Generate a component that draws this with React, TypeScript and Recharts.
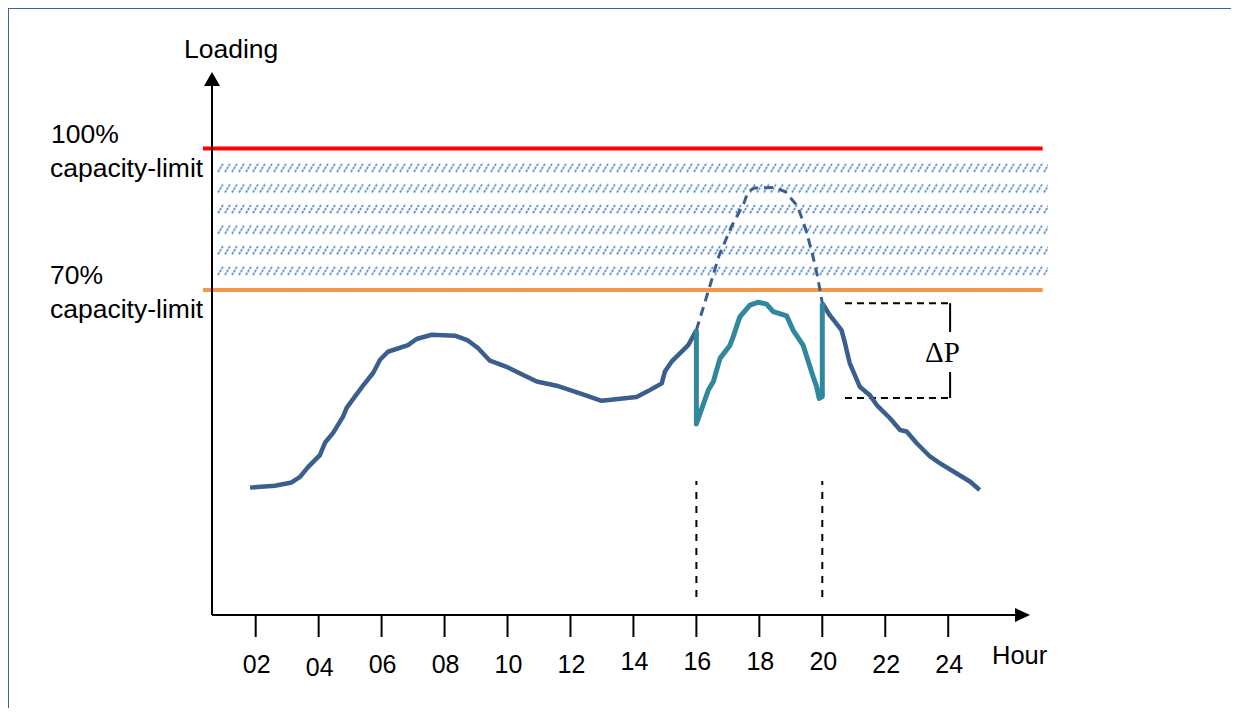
import React from "react";
import {
  LineChart,
  Line,
  XAxis,
  YAxis,
  ReferenceLine,
  ReferenceArea,
  ReferenceDot,
} from "recharts";

// hour of day -> loading (% of capacity)
const morningHours = [1.82, 2.61, 3.14, 3.41, 3.67, 4.04, 4.2, 4.46, 4.77, 4.89, 5.15, 5.41, 5.73, 5.95, 6.2, 6.84, 7.11, 7.59, 8.33, 8.74, 9.06, 9.44, 9.97, 10.4, 10.93, 11.56, 12.3, 12.99, 14.1, 14.42, 14.9, 15.0, 15.21, 15.74, 15.89, 16.0];
const morningLoad = [28.1, 28.5, 29.2, 30.4, 32.5, 35.0, 37.6, 39.7, 43.1, 45.0, 47.4, 49.7, 52.4, 55.2, 56.9, 58.3, 59.6, 60.5, 60.3, 59.3, 57.7, 55.0, 53.7, 52.3, 50.6, 49.7, 48.1, 46.5, 47.3, 48.4, 50.2, 52.7, 54.8, 58.3, 60.1, 61.5];

const managedHours = [16.0, 16.0, 16.38, 16.54, 16.75, 17.07, 17.17, 17.38, 17.7, 17.97, 18.23, 18.44, 18.87, 19.07, 19.39, 19.71, 19.82, 19.9, 20.0, 20.0];
const managedLoad = [61.5, 41.6, 48.8, 50.6, 55.5, 58.3, 60.1, 64.3, 66.8, 67.4, 67.0, 65.4, 64.5, 61.5, 58.3, 51.6, 49.5, 47.0, 47.4, 67.2];

const eveningHours = [20.0, 20.23, 20.61, 20.71, 20.87, 21.19, 21.51, 21.73, 22.15, 22.47, 22.68, 23.0, 23.42, 23.73, 24.27, 24.69, 25.0];
const eveningLoad = [67.2, 64.7, 61.5, 59.0, 54.5, 49.5, 47.7, 45.6, 42.8, 40.3, 40.0, 37.5, 34.7, 33.3, 31.1, 29.4, 27.6];

const unmanagedHours = [16.0, 16.39, 16.71, 17.11, 17.51, 17.64, 17.84, 18.49, 18.83, 19.22, 19.48, 19.68, 19.85, 20.0];
const unmanagedLoad = [61.5, 70.0, 77.1, 83.4, 88.4, 90.8, 91.6, 91.7, 90.8, 87.7, 82.7, 77.8, 72.8, 67.2];

const tickHours = [2, 4, 6, 8, 10, 12, 14, 16, 18, 20, 22, 24];
const tickLabels = ["02", "04", "06", "08", "10", "12", "14", "16", "18", "20", "22", "24"];

const upperLimit = 100;
const lowerLimit = 70;
const shiftStart = 16;
const shiftEnd = 20;
const deltaTop = 67.2;
const deltaBottom = 47.1;

const zip = (hs: number[], vs: number[]) => hs.map((h, i) => ({ h, v: vs[i] }));

const morning = zip(morningHours, morningLoad);
const managed = zip(managedHours, managedLoad);
const evening = zip(eveningHours, eveningLoad);
const unmanaged = zip(unmanagedHours, unmanagedLoad);

const X_MIN = 0.326;
const X_MAX = 27.17;
const Y_MIN = 1.1;
const Y_MAX = 116.2;
const AXIS_X = 0.612;
const ARROW_X = 26.6;

const FONT = "'Liberation Sans', Arial, sans-serif";
const BLUE = "#3b5f8d";
const TEAL = "#31889e";

// small vertical nudges of the hour labels, as in the picture
const tickNudge = [0, 3, 0, 0, 0, 0, -3, -3, -3, -3, 0, 0];

const HourTick = (props: any) => {
  const { x, y, payload, index } = props;
  const i = tickHours.indexOf(payload.value);
  return (
    <text
      x={x + 1}
      y={y + 36 + (tickNudge[i] ?? 0)}
      textAnchor="middle"
      fontFamily={FONT}
      fontSize={25}
      fill="#000"
    >
      {tickLabels[i >= 0 ? i : index]}
    </text>
  );
};

const HatchBand = (p: any) => (
  <g>
    <defs>
      <pattern
        id="hatch"
        patternUnits="userSpaceOnUse"
        x={p.x}
        y={p.y}
        width={7}
        height={20.6}
      >
        <line
          x1={1}
          y1={12}
          x2={6.5}
          y2={3}
          stroke="#5f8fd0"
          strokeWidth={1.8}
          strokeDasharray="2.5 1"
        />
      </pattern>
    </defs>
    <rect x={p.x} y={p.y} width={p.width} height={p.height} fill="url(#hatch)" />
  </g>
);

const RightArrow = (p: any) => (
  <path d={`M${p.cx},${p.cy} L${p.cx - 15},${p.cy - 7} L${p.cx - 15},${p.cy + 7} Z`} fill="#000" />
);
const UpArrow = (p: any) => (
  <path d={`M${p.cx},${p.cy} L${p.cx - 8},${p.cy + 14} L${p.cx + 8},${p.cy + 14} Z`} fill="#000" />
);

export default function App() {
  return (
    <div style={{ position: "relative", width: 1223, height: 700 }}>
      <div style={{ position: "absolute", left: 0, top: 0 }}>
        <LineChart
          width={1220}
          height={700}
          margin={{ top: 64, right: 180, left: 195, bottom: 33 }}
        >
          <XAxis
            dataKey="h"
            type="number"
            domain={[X_MIN, X_MAX]}
            ticks={tickHours}
            allowDataOverflow
            axisLine={false}
            tickSize={22}
            tickMargin={0}
            tickLine={{ stroke: "#000", strokeWidth: 2 }}
            tick={<HourTick />}
            height={60}
            interval={0}
          />
          <YAxis hide type="number" domain={[Y_MIN, Y_MAX]} allowDataOverflow />

          <ReferenceArea
            x1={0.77}
            x2={X_MAX}
            y1={71.36}
            y2={97.56}
            shape={<HatchBand />}
            ifOverflow="visible"
          />
          <ReferenceLine
            segment={[{ x: X_MIN, y: upperLimit }, { x: 27.0, y: upperLimit }]}
            stroke="#ff0000"
            strokeWidth={4}
            ifOverflow="visible"
          />
          <ReferenceLine
            segment={[{ x: X_MIN, y: lowerLimit }, { x: 27.0, y: lowerLimit }]}
            stroke="#f79646"
            strokeWidth={4}
            ifOverflow="visible"
          />

          {/* axes with arrows */}
          <ReferenceLine
            segment={[{ x: AXIS_X, y: Y_MIN }, { x: ARROW_X - 0.3, y: Y_MIN }]}
            stroke="#000"
            strokeWidth={2}
            ifOverflow="visible"
          />
          <ReferenceLine
            segment={[{ x: AXIS_X, y: Y_MIN }, { x: AXIS_X, y: Y_MAX - 2.5 }]}
            stroke="#000"
            strokeWidth={2}
            ifOverflow="visible"
          />
          <ReferenceDot x={ARROW_X} y={Y_MIN} shape={<RightArrow />} ifOverflow="visible" />
          <ReferenceDot x={AXIS_X} y={Y_MAX} shape={<UpArrow />} ifOverflow="visible" />

          {/* shifting window markers */}
          <ReferenceLine
            segment={[{ x: shiftStart, y: 4.9 }, { x: shiftStart, y: 29.5 }]}
            stroke="#000"
            strokeWidth={2}
            strokeDasharray="7 7"
          />
          <ReferenceLine
            segment={[{ x: shiftEnd, y: 4.9 }, { x: shiftEnd, y: 29.5 }]}
            stroke="#000"
            strokeWidth={2}
            strokeDasharray="7 7"
          />

          {/* delta P bracket */}
          <ReferenceLine
            segment={[{ x: 20.72, y: deltaTop }, { x: 24.06, y: deltaTop }]}
            stroke="#000"
            strokeWidth={2}
            strokeDasharray="7 5"
          />
          <ReferenceLine
            segment={[{ x: 20.72, y: deltaBottom }, { x: 24.06, y: deltaBottom }]}
            stroke="#000"
            strokeWidth={2}
            strokeDasharray="7 5"
          />
          <ReferenceLine
            segment={[{ x: 24.06, y: deltaTop }, { x: 24.06, y: 61.1 }]}
            stroke="#000"
            strokeWidth={2}
          />
          <ReferenceLine
            segment={[{ x: 24.06, y: 52.6 }, { x: 24.06, y: deltaBottom }]}
            stroke="#000"
            strokeWidth={2}
          />

          <Line
            data={unmanaged}
            dataKey="v"
            name="Unshifted peak"
            type="linear"
            stroke={BLUE}
            strokeWidth={3}
            strokeDasharray="9 6"
            dot={false}
            isAnimationActive={false}
          />
          <Line
            data={morning}
            dataKey="v"
            name="Loading"
            type="linear"
            stroke={BLUE}
            strokeWidth={4.5}
            strokeLinejoin="round"
            dot={false}
            isAnimationActive={false}
          />
          <Line
            data={evening}
            dataKey="v"
            name="Loading (evening)"
            type="linear"
            stroke={BLUE}
            strokeWidth={4.5}
            strokeLinejoin="round"
            dot={false}
            isAnimationActive={false}
          />
          <Line
            data={managed}
            dataKey="v"
            name="Managed loading"
            type="linear"
            stroke={TEAL}
            strokeWidth={5}
            strokeLinejoin="round"
            dot={false}
            isAnimationActive={false}
          />
        </LineChart>
      </div>

      <svg
        width={1239}
        height={715}
        style={{ position: "absolute", left: -8, top: -8, pointerEvents: "none" }}
      >
        <rect x={6} y={6} width={1231} height={3} fill="#3d6496" />
        <rect x={6} y={6} width={3} height={715} fill="#3d6496" />
        <rect x={1234} y={6} width={3} height={715} fill="#3d6496" />
        <g fontFamily={FONT} fontSize={26.5} fill="#000">
          <text x={184} y={58}>Loading</text>
          <text x={51} y={143}>100%</text>
          <text x={50} y={177}>capacity-limit</text>
          <text x={50} y={284}>70%</text>
          <text x={50} y={318}>capacity-limit</text>
          <text x={992} y={664} fontSize={25.5}>Hour</text>
        </g>
        <text
          x={942.5}
          y={362}
          textAnchor="middle"
          fontFamily="'Liberation Serif', 'Times New Roman', serif"
          fontSize={29}
          fill="#000"
        >
          ΔP
        </text>
      </svg>
    </div>
  );
}
